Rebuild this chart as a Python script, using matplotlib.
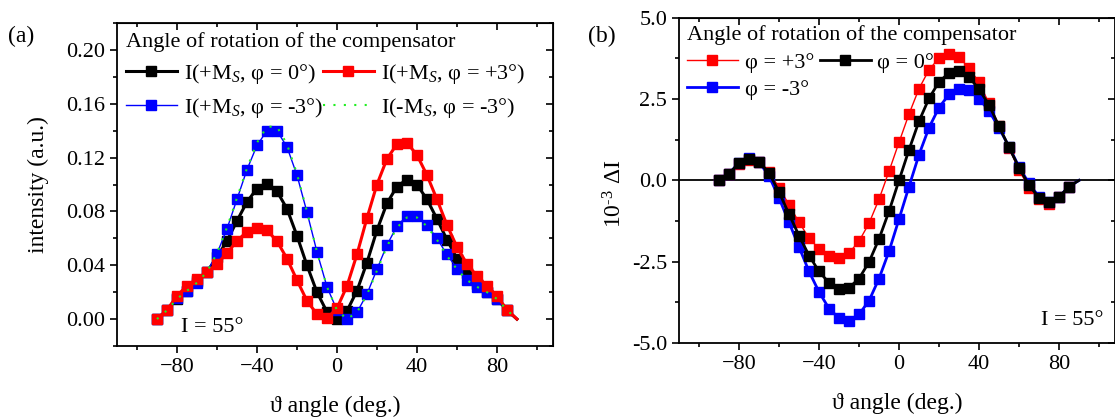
import numpy as np
import matplotlib
matplotlib.use("Agg")
from matplotlib import pyplot as plt
from matplotlib.ticker import MultipleLocator

plt.rcParams['font.family'] = ['Liberation Serif', 'DejaVu Serif']
plt.rcParams['mathtext.fontset'] = 'custom'
plt.rcParams['mathtext.rm'] = 'Liberation Serif'
plt.rcParams['mathtext.it'] = 'Liberation Serif:italic'
plt.rcParams['font.size'] = 16

# ---- data ----
angle = list(range(-90, 91, 5))

# (a) intensity
I_p0 = [0, 0.0067, 0.015, 0.021, 0.028, 0.035, 0.046, 0.058, 0.073, 0.087, 0.097, 0.1005, 0.095,
        0.082, 0.062, 0.040, 0.020, 0.0054, 0.0, 0.006, 0.021, 0.042, 0.066, 0.086, 0.0985, 0.1037,
        0.100, 0.089, 0.0745, 0.059, 0.045, 0.034, 0.0264, 0.020, 0.015, 0.0067, 0]
I_pp3 = [0, 0.0067, 0.0173, 0.0247, 0.030, 0.035, 0.041, 0.049, 0.058, 0.065, 0.0677, 0.066, 0.058,
         0.045, 0.029, 0.0136, 0.0037, 0.0005, 0.008, 0.0245, 0.048, 0.075, 0.100, 0.119, 0.130, 0.131,
         0.122, 0.107, 0.089, 0.070, 0.0536, 0.041, 0.032, 0.0247, 0.0173, 0.007, 0]
I_pm3 = [0, 0.0067, 0.0153, 0.021, 0.027, 0.035, 0.0486, 0.067, 0.089, 0.111, 0.129, 0.140, 0.140,
         0.128, 0.107, 0.0795, 0.050, 0.024, 0.0067, 0.0, 0.005, 0.0185, 0.037, 0.055, 0.069, 0.0768,
         0.0768, 0.070, 0.060, 0.048, 0.0375, 0.029, 0.024, 0.020, 0.015, 0.0067, 0]
I_mm3 = [0, 0.0065, 0.015, 0.021, 0.027, 0.035, 0.049, 0.068, 0.090, 0.112, 0.131, 0.143, 0.143,
         0.130, 0.108, 0.080, 0.050, 0.024, 0.0067, 0.0, 0.005, 0.018, 0.036, 0.054, 0.068, 0.0755,
         0.0755, 0.069, 0.059, 0.047, 0.037, 0.029, 0.024, 0.020, 0.015, 0.0067, 0]

# (b) 10^-3 dI
d_p3 = [0, 0.21, 0.49, 0.64, 0.57, 0.26, -0.22, -0.75, -1.29, -1.77, -2.11, -2.34, -2.39, -2.23,
        -1.87, -1.32, -0.58, 0.28, 1.17, 2.04, 2.82, 3.40, 3.76, 3.90, 3.78, 3.46, 3.01, 2.37, 1.68,
        0.99, 0.32, -0.23, -0.58, -0.72, -0.51, -0.19, 0]
d_0 = [0, 0.21, 0.53, 0.66, 0.57, 0.23, -0.36, -1.04, -1.70, -2.31, -2.80, -3.15, -3.33, -3.30,
       -3.02, -2.51, -1.80, -0.95, 0.0, 0.94, 1.82, 2.52, 3.03, 3.30, 3.35, 3.18, 2.80, 2.32, 1.66,
       1.02, 0.39, -0.15, -0.53, -0.66, -0.51, -0.19, 0]
d_m3 = [0, 0.21, 0.54, 0.70, 0.57, 0.13, -0.54, -1.29, -2.05, -2.80, -3.43, -3.94, -4.24, -4.31,
        -4.12, -3.70, -3.02, -2.18, -1.19, -0.19, 0.79, 1.62, 2.24, 2.64, 2.81, 2.78, 2.51, 2.14, 1.61,
        1.04, 0.41, -0.09, -0.51, -0.66, -0.51, -0.19, 0]

fig = plt.figure(figsize=(11.15, 4.2), dpi=100)
axa = fig.add_axes([0.1049, 0.1762, 0.391, 0.769])
axb = fig.add_axes([0.609, 0.1833, 0.391, 0.7745])

mk = dict(marker='s', markersize=6.5, markevery=slice(0, -1))


def style(ax, xmaj, xmin, ymaj, ymin):
    ax.xaxis.set_major_locator(MultipleLocator(xmaj))
    ax.xaxis.set_minor_locator(MultipleLocator(xmin))
    ax.yaxis.set_major_locator(MultipleLocator(ymaj))
    ax.yaxis.set_minor_locator(MultipleLocator(ymin))
    ax.tick_params(which='major', direction='out', length=5, width=1.2, labelsize=16)
    ax.tick_params(which='minor', direction='out', length=3, width=1.2)
    for s in ax.spines.values():
        s.set_linewidth(1.3)
    # mirrored inward ticks on top and right
    sx = ax.secondary_xaxis('top')
    sx.xaxis.set_major_locator(MultipleLocator(xmaj))
    sx.xaxis.set_minor_locator(MultipleLocator(xmin))
    sx.tick_params(which='major', direction='in', length=5, width=1.2, labeltop=False)
    sx.tick_params(which='minor', direction='in', length=3, width=1.2)
    sy = ax.secondary_yaxis('right')
    sy.yaxis.set_major_locator(MultipleLocator(ymaj))
    sy.yaxis.set_minor_locator(MultipleLocator(ymin))
    sy.tick_params(which='major', direction='in', length=5, width=1.2, labelright=False)
    sy.tick_params(which='minor', direction='in', length=3, width=1.2)


# ---- (a) ----
axa.plot(angle, I_p0, color='black', lw=2.2, label=r'I(+M$_S$, φ = 0°)', **mk)
axa.plot(angle, I_pm3, color='#0000ff', lw=1.0, label=r'I(+M$_S$, φ = -3°)', **mk)
axa.plot(angle, I_pp3, color='#ff0000', lw=2.2, label=r'I(+M$_S$, φ = +3°)', **mk)
axa.plot(angle, I_mm3, color='#22ee22', lw=1.5, ls=(0, (1, 4)), label=r'I(-M$_S$, φ = -3°)')
axa.set_xlim(-110, 108)
axa.set_ylim(-0.02, 0.22)
style(axa, 40, 20, 0.04, 0.02)
axa.yaxis.set_major_formatter(matplotlib.ticker.FormatStrFormatter('%.2f'))
axa.set_xlabel('ϑ angle (deg.)', fontsize=17, labelpad=14)
axa.set_ylabel('intensity (a.u.)', fontsize=17, labelpad=12)
axa.text(-78, -0.006, 'I = 55°', fontsize=16, va='center')
axa.legend(loc='upper left', ncol=2, frameon=False, fontsize=16, title='Angle of rotation of the compensator',
           title_fontsize=16, alignment='left', handlelength=2.3, handletextpad=0.3, columnspacing=0.0,
           labelspacing=0.45, borderaxespad=0.2, borderpad=0.2)

# ---- (b) ----
axb.axhline(0, color='black', lw=1.3, zorder=1)
axb.plot(angle, d_p3, color='#ff0000', lw=1.0, label='φ = +3°', **mk)
axb.plot(angle, d_m3, color='#0000ff', lw=2.0, label='φ = -3°', **mk)
axb.plot(angle, d_0, color='black', lw=2.0, label='φ = 0°', **mk)
axb.set_xlim(-110, 108)
axb.set_ylim(-5, 5)
style(axb, 40, 20, 2.5, 1.25)
axb.yaxis.set_major_formatter(matplotlib.ticker.FormatStrFormatter('%.1f'))
axb.set_xlabel('ϑ angle (deg.)', fontsize=17, labelpad=14)
axb.set_ylabel(r'10$^{\text{-3}}$ ΔI', fontsize=17)
axb.yaxis.set_label_coords(-0.12, 0.46)
axb.text(102, -4.3, 'I = 55°', fontsize=16, ha='right', va='center')
axb.legend(loc='upper left', ncol=2, frameon=False, fontsize=16, title='Angle of rotation of the compensator',
           title_fontsize=16, alignment='left', handlelength=2.3, handletextpad=0.3, columnspacing=0.25,
           labelspacing=0.3, borderaxespad=0.15, borderpad=0.2)

fig.text(0.007, 0.9, '(a)', fontsize=17)
fig.text(0.527, 0.9, '(b)', fontsize=17)

fig.savefig('out.png', dpi=100)
